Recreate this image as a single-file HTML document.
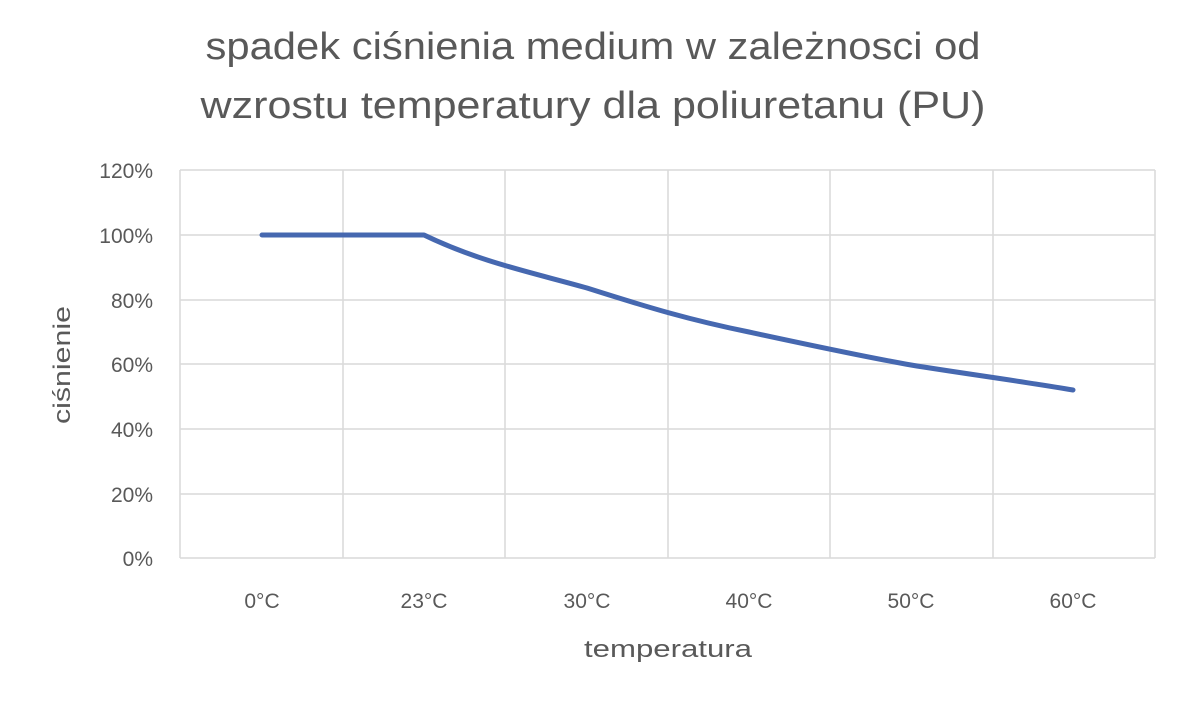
<!DOCTYPE html>
<html><head><meta charset="utf-8"><style>
html,body{margin:0;padding:0;background:#fff;}
body{width:1181px;height:700px;overflow:hidden;}
</style></head><body>
<svg width="1181" height="700" xmlns="http://www.w3.org/2000/svg" font-family="Liberation Sans, DejaVu Sans, sans-serif">
<rect width="1181" height="700" fill="#fff"/>
<g fill="#595959" font-size="38" text-anchor="middle">
<text x="593" y="59" textLength="775" lengthAdjust="spacingAndGlyphs">spadek ciśnienia medium w zależnosci od</text>
<text x="593" y="118" textLength="785" lengthAdjust="spacingAndGlyphs">wzrostu temperatury dla poliuretanu (PU)</text>
</g>
<g stroke="#d9d9d9" stroke-width="1.5">
<line x1="180" y1="170" x2="1155" y2="170"/>
<line x1="180" y1="235" x2="1155" y2="235"/>
<line x1="180" y1="300" x2="1155" y2="300"/>
<line x1="180" y1="364" x2="1155" y2="364"/>
<line x1="180" y1="429" x2="1155" y2="429"/>
<line x1="180" y1="494" x2="1155" y2="494"/>
<line x1="180" y1="558" x2="1155" y2="558"/>
<line x1="180" y1="170" x2="180" y2="558"/>
<line x1="343" y1="170" x2="343" y2="558"/>
<line x1="505" y1="170" x2="505" y2="558"/>
<line x1="668" y1="170" x2="668" y2="558"/>
<line x1="830" y1="170" x2="830" y2="558"/>
<line x1="993" y1="170" x2="993" y2="558"/>
<line x1="1155" y1="170" x2="1155" y2="558"/>
</g>
<g fill="#595959" font-size="21" text-anchor="end">
<text x="153" y="178">120%</text>
<text x="153" y="243">100%</text>
<text x="153" y="308">80%</text>
<text x="153" y="372">60%</text>
<text x="153" y="437">40%</text>
<text x="153" y="502">20%</text>
<text x="153" y="566">0%</text>
</g>
<g fill="#595959" font-size="21" text-anchor="middle">
<text x="262" y="608">0°C</text>
<text x="424" y="608">23°C</text>
<text x="587" y="608">30°C</text>
<text x="749" y="608">40°C</text>
<text x="911" y="608">50°C</text>
<text x="1073" y="608">60°C</text>
<text x="668" y="657" font-size="24" textLength="168" lengthAdjust="spacingAndGlyphs">temperatura</text>
<text transform="translate(70,365) rotate(-90)" font-size="24" textLength="118" lengthAdjust="spacingAndGlyphs">ciśnienie</text>
</g>
<path d="M262 235 L424 235 C480 262 530 272 587 288 C650 308 690 320 749 332 C800 343 860 356 911 365 C960 373 1020 381 1073 390" fill="none" stroke="#4668b0" stroke-width="5" stroke-linecap="round" stroke-linejoin="round"/>
</svg>
</body></html>
